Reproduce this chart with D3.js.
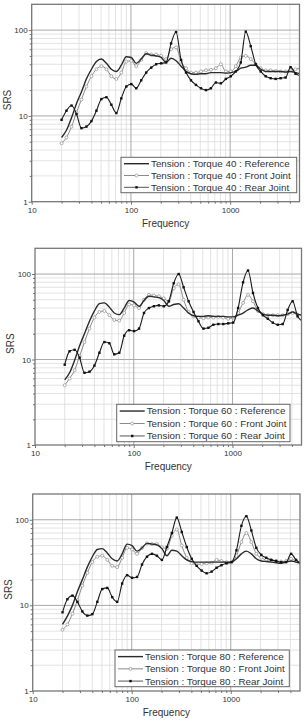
<!DOCTYPE html>
<html><head><meta charset="utf-8">
<script src="https://cdn.jsdelivr.net/npm/d3@7/dist/d3.min.js"></script>
<style>body{margin:0;background:#fff;} svg{display:block;}</style>
</head><body>
<svg id="c" width="304" height="722"></svg>
<script>
// ---- data ----
const freqs = [20,22.4,25.2,28.3,31.7,35.6,40,44.9,50.4,56.6,63.5,71.3,80,89.8,100.8,113.1,127,142.5,160,179.6,201.6,226.3,254,285.1,320,359.2,403.2,452.5,508,570.2,640,718.4,806.3,905.1,1016,1140,1280,1437,1613,1810,2032,2281,2560,2874,3225,3620,4064,4561,5120];

const ref40   = [5.6,6.8,9.5,14,19,27,35,43,46,41,35,33,39,49,48,41,46,53,51,50,48,42,47,44,38,33,31,30.5,31,31,32,32,32,31.5,32,33,36,37,39,39,35,33,33,33,33,32.5,33,32,31];
const front40 = [4.8,5.6,7.5,11,15.5,22,29,35,38,35,29,27,32,43,44,38,45,54,52,52,50,46,60,63,43,36,32,32,33,34,34.5,36,40,33,33,38,48,50,46,40,36,34,34,33.5,33,33,34,35,36];
const rear40  = [9,11.5,13.2,10.5,7.2,7.5,8.7,11.5,15.7,16.5,13.5,10.8,16,22,23.5,21,26,32,36.5,40,41,42,70,95,45,32,26,23,21,20,21,24.5,24,27,29,33,42,96,65,40,33,29,27.5,27,27.5,28,37,31,29.5];

const ref60   = [5.8,7,9.8,14.5,20,28,37,45,46,41,35,33.5,40,49,47,42,49,55,54,53,49,42,44,45,40,35,32.5,32,32,32.5,32,32,32,31.5,31.5,33,35,38,40,37,34,33,33,32.5,33,34,36,34,33];
const front60 = [5,6,7.5,11,16,23,31,36,37,33,29,28.5,35,44,43,40,50,57,56,55,52,48,68,76,50,36,32,31,30.5,31,31,31.5,31,30,31,35,46,57,48,37,34,33,33,33,33,34,35,33.5,33];
const rear60  = [8.7,12.5,13,10.5,7,7.2,8.5,12,16,15.5,11.5,12,19,22,21.5,23,35,40,42,43,42,48,78,100,70,48,36,28,23,23.5,25.5,26,26,26.5,27,40,80,110,60,40,33,30,27,25.5,26,38,48,32,28];

const ref80   = [6,7.5,10,14.5,20,28,37,45,46,41,35,33,40,52,50,43,47,53,52,51,46,38,44,43,38,34,32.5,32,32,32,32,32,32,32,32,35,40,43,40,35,33,32.5,32,31.5,31,32,33,32,31];
const front80 = [5.2,6,8,11.5,17,24,32,37,38,34,29,28,36,47,45,40,47,53,52,52,48,46,65,77,50,36,31,30,30.5,31,31.5,34,33,32,32,38,55,70,55,40,36,34,33.5,33,32.5,33,35,33,32];
const rear80  = [8.3,11.8,13,11,8.5,7.6,7.9,11,15.5,16,12.5,11,18,22.5,21,21.5,30,37,40,38,34,48,70,106,72,48,35,29,25.5,23.7,24.8,27.5,29.5,31,32,44,85,110,75,47,39,36,34,33,32,32,40,34,31];

const torques = ["40","60","80"];
const seriesNames = ["Reference","Front Joint","Rear Joint"];
const xTickValues = [10,100,1000];
const yTickValues = [1,10,100];
const xLabel = "Frequency";
const yLabel = "SRS";

// ---- layout ----
const panels = [
  {torque:torques[0], series:[ref40,front40,rear40], l:31.7, r:299.5, t:4.3, b:201.7, leg:{x:121,y:157.3,w:175.7,h:35.4}},
  {torque:torques[1], series:[ref60,front60,rear60], l:35,   r:301.5, t:248.3, b:445, leg:{x:116.7,y:404.3,w:173.3,h:37.4}},
  {torque:torques[2], series:[ref80,front80,rear80], l:32.7, r:300,   t:494,  b:691, leg:{x:115,y:650,w:174.3,h:36.7}}
];

const svg = d3.select("#c");
const font = "'Liberation Sans', Arial, sans-serif";
const textCol = "#333";

panels.forEach((p, pi) => {
  const x = d3.scaleLog().domain([10,5000]).range([p.l, p.r]);
  const y = d3.scaleLog().domain([1,200]).range([p.b, p.t]);
  const g = svg.append("g");

  // grid
  const minorX = [], minorY = [];
  [10,100,1000].forEach(d => { for (let k=2;k<=9;k++){ const v=d*k; if (v<5000) minorX.push(v);} });
  [1,10,100].forEach(d => { for (let k=2;k<=9;k++){ const v=d*k; if (v<200) minorY.push(v);} });
  g.selectAll(".mx").data(minorX).join("line")
    .attr("x1",d=>x(d)).attr("x2",d=>x(d)).attr("y1",p.t).attr("y2",p.b)
    .attr("stroke","#dcdcdc").attr("stroke-width",0.8);
  g.selectAll(".my").data(minorY).join("line")
    .attr("y1",d=>y(d)).attr("y2",d=>y(d)).attr("x1",p.l).attr("x2",p.r)
    .attr("stroke","#dcdcdc").attr("stroke-width",0.8);
  g.selectAll(".Mx").data([100,1000]).join("line")
    .attr("x1",d=>x(d)).attr("x2",d=>x(d)).attr("y1",p.t).attr("y2",p.b)
    .attr("stroke","#a8a8a8").attr("stroke-width",1);
  g.selectAll(".My").data([10,100]).join("line")
    .attr("y1",d=>y(d)).attr("y2",d=>y(d)).attr("x1",p.l).attr("x2",p.r)
    .attr("stroke","#a8a8a8").attr("stroke-width",1);

  // clip
  const cid = "clip"+pi;
  svg.append("clipPath").attr("id",cid).append("rect")
    .attr("x",p.l).attr("y",p.t).attr("width",p.r-p.l).attr("height",p.b-p.t);

  const line = d3.line().x((d,i)=>x(freqs[i])).y(d=>y(d)).curve(d3.curveMonotoneX);
  const cg = g.append("g").attr("clip-path","url(#"+cid+")");

  // front joint (gray, open circles)
  cg.append("path").attr("d",line(p.series[1])).attr("fill","none")
    .attr("stroke","#8a8a8a").attr("stroke-width",1);
  cg.selectAll(".fm").data(p.series[1]).join("circle")
    .attr("cx",(d,i)=>x(freqs[i])).attr("cy",d=>y(d)).attr("r",1.5)
    .attr("fill","#fff").attr("stroke","#9a9a9a").attr("stroke-width",0.8);
  // reference (solid dark)
  cg.append("path").attr("d",line(p.series[0])).attr("fill","none")
    .attr("stroke","#2a2a2a").attr("stroke-width",1.4);
  // rear joint (black, filled)
  cg.append("path").attr("d",line(p.series[2])).attr("fill","none")
    .attr("stroke","#1a1a1a").attr("stroke-width",1.1);
  cg.selectAll(".rm").data(p.series[2]).join("rect")
    .attr("x",(d,i)=>x(freqs[i])-1.2).attr("y",d=>y(d)-1.2).attr("width",2.4).attr("height",2.4)
    .attr("fill","#111");

  // frame
  g.append("rect").attr("x",p.l).attr("y",p.t).attr("width",p.r-p.l).attr("height",p.b-p.t)
    .attr("fill","none").attr("stroke","#777").attr("stroke-width",1.3);

  // axes
  const ax = d3.axisBottom(x).tickValues(xTickValues).tickSize(3).tickFormat(d3.format("d"));
  const axg = g.append("g").attr("transform",`translate(0,${p.b})`).call(ax);
  const axm = g.append("g").attr("transform",`translate(0,${p.b})`)
    .call(d3.axisBottom(x).tickValues(minorX).tickSize(2).tickFormat(""));
  const ay = d3.axisLeft(y).tickValues(yTickValues).tickSize(3).tickFormat(d3.format("d"));
  const ayg = g.append("g").attr("transform",`translate(${p.l},0)`).call(ay);
  const aym = g.append("g").attr("transform",`translate(${p.l},0)`)
    .call(d3.axisLeft(y).tickValues(minorY).tickSize(2).tickFormat(""));
  [axg,axm,ayg,aym].forEach(a => {
    a.select(".domain").remove();
    a.selectAll(".tick line").attr("stroke","#666").attr("stroke-width",0.9);
    a.selectAll("text").attr("font-family",font).attr("font-size",8).attr("fill",textCol);
  });
  axg.selectAll("text").attr("dy","0.9em").attr("y",4);
  ayg.selectAll("text").attr("x",-4);

  // axis titles
  g.append("text").attr("x",(p.l+p.r)/2).attr("y",p.b+25)
    .attr("text-anchor","middle").attr("font-family",font).attr("font-size",10).attr("fill",textCol)
    .text(xLabel);
  g.append("text").attr("transform",`translate(${p.l-21},${(p.t+p.b)/2-3}) rotate(-90)`)
    .attr("text-anchor","middle").attr("font-family",font).attr("font-size",10).attr("fill",textCol)
    .text(yLabel);

  // legend
  const L = p.leg;
  g.append("rect").attr("x",L.x).attr("y",L.y).attr("width",L.w).attr("height",L.h)
    .attr("fill","#fff").attr("stroke","#666").attr("stroke-width",1);
  const rowH = L.h/3;
  seriesNames.forEach((name, k) => {
    const cy = L.y + rowH*(k+0.5) + 0.5;
    const x0 = L.x + 3, x1 = L.x + 28;
    const stroke = k===0 ? "#2a2a2a" : (k===1 ? "#8a8a8a" : "#555");
    g.append("line").attr("x1",x0).attr("x2",x1).attr("y1",cy).attr("y2",cy)
      .attr("stroke",stroke).attr("stroke-width",k===0?1.4:1);
    if (k===1) g.append("circle").attr("cx",(x0+x1)/2).attr("cy",cy).attr("r",1.5)
      .attr("fill","#fff").attr("stroke","#9a9a9a").attr("stroke-width",0.8);
    if (k===2) g.append("rect").attr("x",(x0+x1)/2-1.2).attr("y",cy-1.2).attr("width",2.4).attr("height",2.4).attr("fill","#111");
    g.append("text").attr("x",x1+2).attr("y",cy).attr("dy","0.35em")
      .attr("font-family",font).attr("font-size",9.8).attr("fill",textCol)
      .text(`Tension : Torque ${p.torque} : ${name}`);
  });
});
</script>
</body></html>
